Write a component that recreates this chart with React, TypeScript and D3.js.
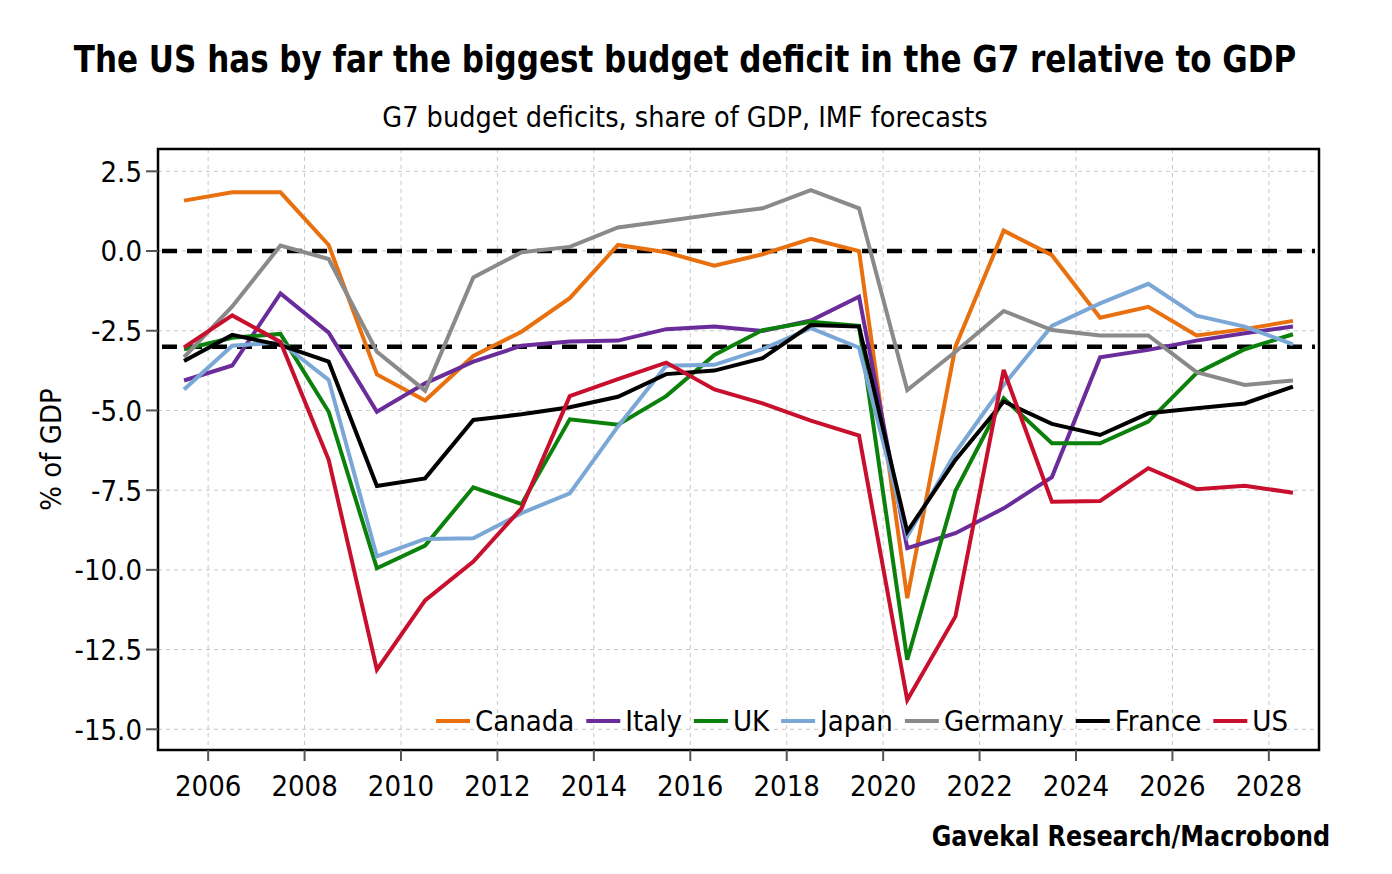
import React, { useEffect, useRef } from "react";
import * as d3 from "d3";

const years = [2005, 2006, 2007, 2008, 2009, 2010, 2011, 2012, 2013, 2014, 2015, 2016, 2017, 2018, 2019, 2020, 2021, 2022, 2023, 2024, 2025, 2026, 2027, 2028];

const canada = [1.58, 1.84, 1.84, 0.19, -3.87, -4.69, -3.29, -2.53, -1.48, 0.19, -0.04, -0.46, -0.1, 0.38, 0.0, -10.89, -3.0, 0.64, -0.13, -2.09, -1.75, -2.65, -2.45, -2.19];
const italy = [-4.06, -3.59, -1.33, -2.56, -5.04, -4.15, -3.47, -2.97, -2.84, -2.81, -2.45, -2.37, -2.51, -2.18, -1.43, -9.32, -8.85, -8.07, -7.09, -3.33, -3.1, -2.81, -2.58, -2.37];
const uk = [-3.08, -2.72, -2.6, -5.04, -9.95, -9.24, -7.41, -7.94, -5.28, -5.45, -4.55, -3.26, -2.48, -2.22, -2.35, -12.82, -7.52, -4.62, -6.03, -6.03, -5.35, -3.83, -3.08, -2.61];
const japan = [-4.34, -2.97, -2.86, -4.04, -9.58, -9.03, -9.01, -8.22, -7.6, -5.5, -3.6, -3.57, -3.08, -2.42, -3.03, -8.95, -6.32, -4.2, -2.35, -1.64, -1.03, -2.03, -2.37, -2.93];
const germany = [-3.33, -1.74, 0.17, -0.25, -3.16, -4.38, -0.83, -0.04, 0.13, 0.74, 0.94, 1.15, 1.34, 1.91, 1.34, -4.36, -3.16, -1.88, -2.48, -2.65, -2.65, -3.8, -4.2, -4.06];
const france = [-3.45, -2.63, -2.95, -3.47, -7.37, -7.13, -5.3, -5.12, -4.9, -4.57, -3.86, -3.75, -3.36, -2.32, -2.37, -8.8, -6.55, -4.72, -5.42, -5.77, -5.09, -4.93, -4.78, -4.25];
const us = [-3.02, -2.02, -2.85, -6.55, -13.13, -10.96, -9.74, -8.07, -4.55, -4.02, -3.5, -4.34, -4.78, -5.32, -5.79, -14.08, -11.46, -3.73, -7.86, -7.84, -6.81, -7.47, -7.36, -7.58];

const seriesNames = ["Canada", "Italy", "UK", "Japan", "Germany", "France", "US"];
const seriesValues = [canada, italy, uk, japan, germany, france, us];
const seriesColors = ["#E8700F", "#6A2C9A", "#0B800B", "#7BA7D7", "#8A8A8A", "#000000", "#C8102E"];

const yTicks = [2.5, 0, -2.5, -5, -7.5, -10, -12.5, -15];
const xTicks = [2006, 2008, 2010, 2012, 2014, 2016, 2018, 2020, 2022, 2024, 2026, 2028];
const refLines = [0, -3];

const FONT = "'Liberation Sans Narrow', 'Arial Narrow', 'DejaVu Sans Condensed', sans-serif";

export default function App() {
  const ref = useRef<SVGSVGElement>(null);

  useEffect(() => {
    if (!ref.current) return;
    const svg = d3.select(ref.current);
    svg.selectAll("*").remove();

    const W = 1392;
    const H = 874;
    const plot = { left: 158, right: 1319, top: 149, bottom: 750 };

    const x = d3.scaleLinear().domain([2004.96, 2029.04]).range([plot.left, plot.right]);
    const y = d3.scaleLinear().domain([-15.65, 3.2]).range([plot.bottom, plot.top]);

    svg.append("rect").attr("width", W).attr("height", H).attr("fill", "#fff");

    // titles (condensed a little horizontally to match the narrow original face)
    svg
      .append("text")
      .attr("transform", "translate(685,72) scale(0.907,1)")
      .attr("text-anchor", "middle")
      .attr("font-family", FONT)
      .attr("font-weight", "bold")
      .attr("font-size", 38)
      .text("The US has by far the biggest budget deficit in the G7 relative to GDP");

    svg
      .append("text")
      .attr("x", 685)
      .attr("y", 127)
      .attr("text-anchor", "middle")
      .attr("font-family", FONT)
      .attr("font-size", 28.5)
      .text("G7 budget deficits, share of GDP, IMF forecasts");

    // grid
    const grid = svg.append("g").attr("stroke", "#c8c8c8").attr("stroke-width", 1).attr("stroke-dasharray", "4,4");
    xTicks.forEach((t) => {
      grid.append("line").attr("x1", x(t)).attr("x2", x(t)).attr("y1", plot.top).attr("y2", plot.bottom);
    });
    yTicks.forEach((t) => {
      grid.append("line").attr("x1", plot.left).attr("x2", plot.right).attr("y1", y(t)).attr("y2", y(t));
    });

    // reference dashed lines
    refLines.forEach((v) => {
      svg
        .append("line")
        .attr("x1", plot.left + 4)
        .attr("x2", plot.right - 4)
        .attr("y1", y(v))
        .attr("y2", y(v))
        .attr("stroke", "#000")
        .attr("stroke-width", 4.5)
        .attr("stroke-dasharray", "15,10");
    });

    // series
    const line = d3
      .line<number>()
      .x((_, i) => x(years[i] + 0.5))
      .y((d) => y(d));

    seriesValues.forEach((vals, i) => {
      svg
        .append("path")
        .attr("d", line(vals))
        .attr("fill", "none")
        .attr("stroke", seriesColors[i])
        .attr("stroke-width", 4)
        .attr("stroke-linejoin", "miter")
        .attr("stroke-miterlimit", 3);
    });

    // frame
    svg
      .append("rect")
      .attr("x", plot.left)
      .attr("y", plot.top)
      .attr("width", plot.right - plot.left)
      .attr("height", plot.bottom - plot.top)
      .attr("fill", "none")
      .attr("stroke", "#000")
      .attr("stroke-width", 2.5);

    // y axis
    const yAxis = svg.append("g");
    yTicks.forEach((t) => {
      yAxis
        .append("line")
        .attr("x1", plot.left - 12)
        .attr("x2", plot.left)
        .attr("y1", y(t))
        .attr("y2", y(t))
        .attr("stroke", "#555")
        .attr("stroke-width", 2);
      yAxis
        .append("text")
        .attr("x", plot.left - 16)
        .attr("y", y(t))
        .attr("dy", "0.36em")
        .attr("text-anchor", "end")
        .attr("font-family", FONT)
        .attr("font-size", 29)
        .text(t.toFixed(1));
    });

    svg
      .append("text")
      .attr("transform", `translate(61,${(plot.top + plot.bottom) / 2}) rotate(-90)`)
      .attr("text-anchor", "middle")
      .attr("font-family", FONT)
      .attr("font-size", 29)
      .text("% of GDP");

    // x axis
    const xAxis = svg.append("g");
    xTicks.forEach((t) => {
      xAxis
        .append("line")
        .attr("x1", x(t))
        .attr("x2", x(t))
        .attr("y1", plot.bottom)
        .attr("y2", plot.bottom + 11)
        .attr("stroke", "#555")
        .attr("stroke-width", 2);
      xAxis
        .append("text")
        .attr("x", x(t))
        .attr("y", 796)
        .attr("text-anchor", "middle")
        .attr("font-family", FONT)
        .attr("font-size", 29)
        .text(String(t));
    });

    // legend
    const legend = svg.append("g").attr("transform", `translate(436,721)`);
    let lx = 0;
    seriesNames.forEach((name, i) => {
      legend
        .append("line")
        .attr("x1", lx)
        .attr("x2", lx + 34)
        .attr("y1", 0)
        .attr("y2", 0)
        .attr("stroke", seriesColors[i])
        .attr("stroke-width", 4);
      const txt = legend
        .append("text")
        .attr("x", lx + 39)
        .attr("y", 0)
        .attr("dy", "0.36em")
        .attr("font-family", FONT)
        .attr("font-size", 29)
        .text(name);
      const w = (txt.node() as SVGTextElement).getComputedTextLength();
      lx += 39 + w + 12;
    });

    // source
    svg
      .append("text")
      .attr("transform", "translate(1330,846) scale(0.915,1)")
      .attr("text-anchor", "end")
      .attr("font-family", FONT)
      .attr("font-weight", "bold")
      .attr("font-size", 29)
      .text("Gavekal Research/Macrobond");
  }, []);

  return (
    <svg
      ref={ref}
      width={1392}
      height={874}
      style={{ position: "absolute", left: 0, top: 0 }}
    />
  );
}
